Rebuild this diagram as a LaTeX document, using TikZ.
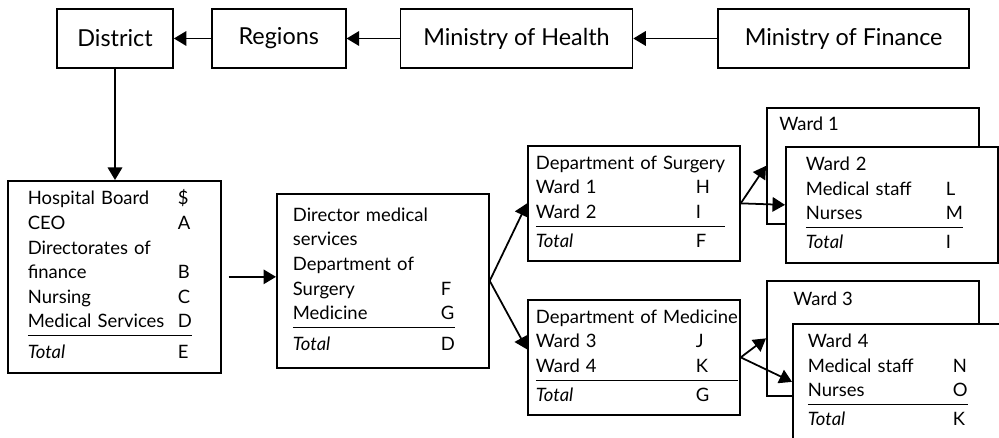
\documentclass[tikz,border=0pt]{standalone}
\usepackage{fontspec}
\setmainfont{Lato}
\usepackage{tikz}
\usetikzlibrary{arrows.meta, positioning}
\tikzset{
	topbox/.style ={rectangle, draw=black, line width=1pt, minimum height=1.18cm, align=center, font=\fontsize{13.3}{15}\selectfont},
	ledger/.style ={rectangle, draw=black, line width=1pt, fill=white, minimum width=4.24cm, inner xsep=0pt, anchor=north west, align=left},
	backbox/.style={rectangle, draw=black, line width=1pt, fill=white, minimum width=4.24cm, anchor=north west},
	flow/.style   ={-{Triangle[length=2.5mm, width=2.9mm]}, line width=1pt},
}

\begin{document}
\begin{tikzpicture}[x=0.02cm, y=-0.02cm, every node/.style={font=\fontsize{10.5}{14}\selectfont}]
	\clip (0,0) rectangle (999,438);
	% funding chain
	\node[topbox, minimum width=2.32cm] (district) at (115,38.5) {District};
	\node[topbox, minimum width=2.68cm, right=0.74cm of district] (regions) {Regions};
	\node[topbox, minimum width=4.64cm, right=1.06cm of regions] (moh) {Ministry of Health};
	\node[topbox, minimum width=5.02cm, right=1.68cm of moh] (mof) {Ministry of Finance};
	% hospital level
	\node[ledger, minimum width=4.26cm, minimum height=3.84cm, text width=3.46cm] (hosp) at (7,180) {%
		\begin{tabular}{@{}p{3.0cm}@{}l@{}}
			Hospital Board & \$ \\
			CEO & A \\
			Directorates of & \\
			finance & B \\
			Nursing & C \\
			Medical Services & D \\ \hline\noalign{\vskip3pt}
			\textit{Total} & E
		\end{tabular}};
	\node[ledger, minimum height=3.48cm, text width=3.6cm] (dir) at (276,193) {%
		\begin{tabular}{@{}p{2.96cm}@{}l@{}}
			Director medical & \\
			services & \\
			Department of & \\
			Surgery & F \\
			Medicine & G \\ \hline\noalign{\vskip3pt}
			\textit{Total} & D
		\end{tabular}};
	% departments
	\node[ledger, minimum height=2.3cm, text width=3.92cm] (ds) at (527,145) {%
		\begin{tabular}{@{}p{3.2cm}@{}l@{}}
			\multicolumn{2}{@{}l@{}}{Department of Surgery} \\
			Ward 1 & H \\
			Ward 2 & I \\ \hline\noalign{\vskip2pt}
			\textit{Total} & F
		\end{tabular}};
	\node[ledger, minimum height=2.3cm, text width=3.92cm] (dm) at (527,299) {%
		\begin{tabular}{@{}p{3.2cm}@{}l@{}}
			\multicolumn{2}{@{}l@{}}{Department of Medicine} \\
			Ward 3 & J \\
			Ward 4 & K \\ \hline\noalign{\vskip2pt}
			\textit{Total} & G
		\end{tabular}};
	% wards
	\node[backbox, minimum height=2.32cm] (w1) at (766,107) {};
	\node[below right=0.2cm and 0.26cm of w1.north west, inner sep=0pt] (w1t) {Ward 1};
	\node[backbox, minimum height=2.3cm] (w3) at (766,280) {};
	\node[below right=0.24cm and 0.54cm of w3.north west, inner sep=0pt] (w3t) {Ward 3};
	\node[ledger, minimum height=2.32cm, text width=3.44cm] (w2) at (785,146) {%
		\begin{tabular}{@{}p{2.8cm}@{}l@{}}
			Ward 2 & \\
			Medical staff & L \\
			Nurses & M \\ \hline\noalign{\vskip2pt}
			\textit{Total} & I
		\end{tabular}};
	\node[ledger, minimum height=2.32cm, text width=3.64cm] (w4) at (792,323) {%
		\begin{tabular}{@{}p{2.9cm}@{}l@{}}
			Ward 4 & \\
			Medical staff & N \\
			Nurses & O \\ \hline\noalign{\vskip2pt}
			\textit{Total} & K
		\end{tabular}};
	% arrows
	\draw[flow] (regions) -- (district);
	\draw[flow] (moh) -- (regions);
	\draw[flow] (mof) -- (moh);
	\draw[flow] (district.south) -- (district.south |- hosp.north);
	\draw[flow, shorten <=0.14cm] (hosp.east) -- (hosp.east -| dir.west);
	\draw[flow] (dir.east) -- (ds.west);
	\draw[flow] (dir.east) -- ([yshift=0.16cm]dm.west);
	\draw[flow] (ds.east) -- (w1.west);
	\draw[flow] (ds.east) -- (w2.west);
	\draw[flow] (dm.east) -- (w3.west);
	\draw[flow] (dm.east) -- (w4.west);
\end{tikzpicture}
\end{document}
